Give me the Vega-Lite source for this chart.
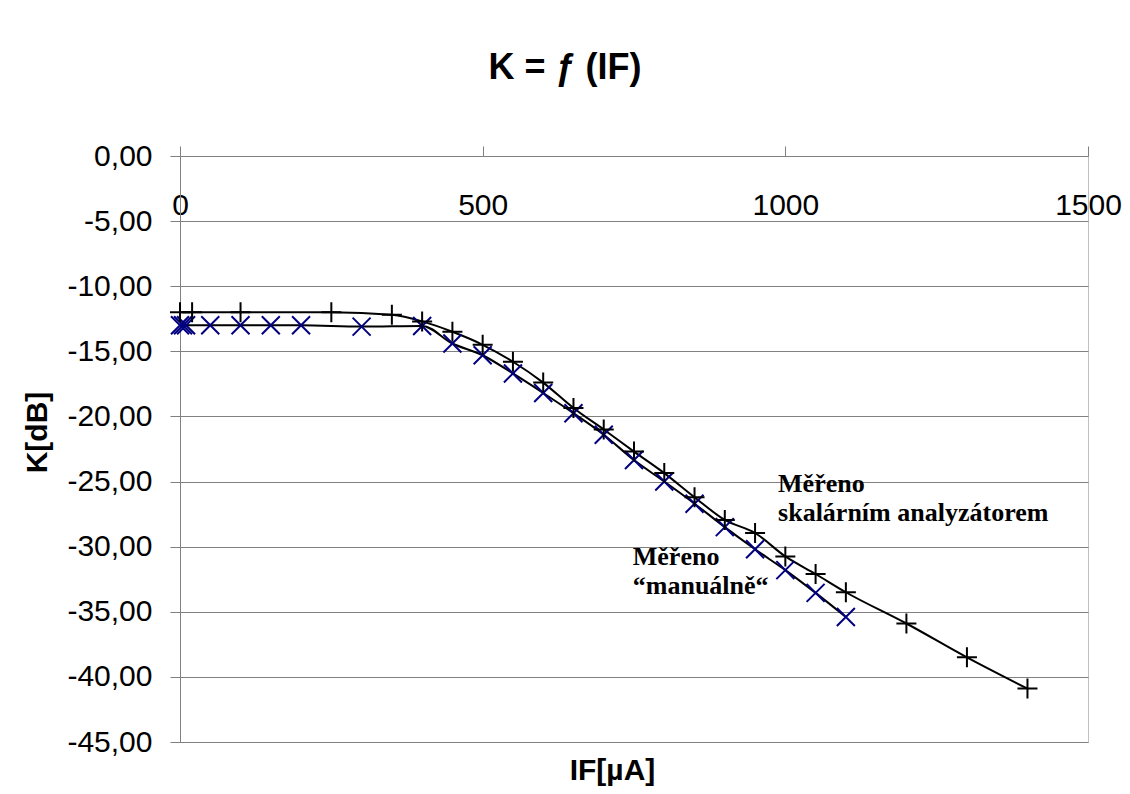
{
  "$schema": "https://vega.github.io/schema/vega-lite/v6.json",
  "width": 908,
  "height": 586,
  "autosize": {"type": "none"},
  "padding": {"left": 180, "top": 156, "right": 42, "bottom": 52},
  "background": "white",
  "title": {
    "text": "K = ƒ (IF)",
    "font": "Liberation Sans",
    "fontSize": 36,
    "fontWeight": "bold",
    "color": "black",
    "anchor": "middle",
    "dx": -69,
    "offset": 54
  },
  "datasets": {
    "meas": [
      {"I": 0, "K": -12.0, "series": "skalar"},
      {"I": 20, "K": -12.0, "series": "skalar"},
      {"I": 100, "K": -12.0, "series": "skalar"},
      {"I": 250, "K": -12.0, "series": "skalar"},
      {"I": 350, "K": -12.2, "series": "skalar"},
      {"I": 400, "K": -12.7, "series": "skalar"},
      {"I": 450, "K": -13.5, "series": "skalar"},
      {"I": 500, "K": -14.5, "series": "skalar"},
      {"I": 550, "K": -15.8, "series": "skalar"},
      {"I": 600, "K": -17.4, "series": "skalar"},
      {"I": 650, "K": -19.35, "series": "skalar"},
      {"I": 700, "K": -21.0, "series": "skalar"},
      {"I": 750, "K": -22.7, "series": "skalar"},
      {"I": 800, "K": -24.35, "series": "skalar"},
      {"I": 850, "K": -26.2, "series": "skalar"},
      {"I": 900, "K": -27.95, "series": "skalar"},
      {"I": 950, "K": -28.95, "series": "skalar"},
      {"I": 1000, "K": -30.75, "series": "skalar"},
      {"I": 1050, "K": -32.1, "series": "skalar"},
      {"I": 1100, "K": -33.5, "series": "skalar"},
      {"I": 1200, "K": -35.9, "series": "skalar"},
      {"I": 1300, "K": -38.5, "series": "skalar"},
      {"I": 1400, "K": -40.9, "series": "skalar"},
      {"I": 0, "K": -13.0, "series": "manual"},
      {"I": 5, "K": -13.0, "series": "manual"},
      {"I": 10, "K": -13.0, "series": "manual"},
      {"I": 50, "K": -13.0, "series": "manual"},
      {"I": 100, "K": -13.0, "series": "manual"},
      {"I": 150, "K": -13.0, "series": "manual"},
      {"I": 200, "K": -13.0, "series": "manual"},
      {"I": 300, "K": -13.1, "series": "manual"},
      {"I": 400, "K": -13.05, "series": "manual"},
      {"I": 450, "K": -14.4, "series": "manual"},
      {"I": 500, "K": -15.3, "series": "manual"},
      {"I": 550, "K": -16.7, "series": "manual"},
      {"I": 600, "K": -18.2, "series": "manual"},
      {"I": 650, "K": -19.75, "series": "manual"},
      {"I": 700, "K": -21.4, "series": "manual"},
      {"I": 750, "K": -23.35, "series": "manual"},
      {"I": 800, "K": -25.0, "series": "manual"},
      {"I": 850, "K": -26.7, "series": "manual"},
      {"I": 900, "K": -28.5, "series": "manual"},
      {"I": 950, "K": -30.2, "series": "manual"},
      {"I": 1000, "K": -31.8, "series": "manual"},
      {"I": 1050, "K": -33.55, "series": "manual"},
      {"I": 1100, "K": -35.4, "series": "manual"}
    ],
    "notes": [
      {"I": 988, "K": -25.8, "text": "Měřeno\nskalárním analyzátorem"},
      {"I": 748, "K": -31.4, "text": "Měřeno\n“manuálně“"}
    ]
  },
  "encoding": {
    "x": {
      "field": "I",
      "type": "quantitative",
      "scale": {"domain": [0, 1500], "nice": false, "zero": false},
      "axis": {
        "orient": "top",
        "values": [0, 500, 1000, 1500],
        "format": "d",
        "grid": false,
        "domainColor": "#808080",
        "tickColor": "#808080",
        "tickSize": 10,
        "labelPadding": -44,
        "labelBaseline": "top",
        "labelAlign": "center",
        "labelFont": "Liberation Sans",
        "labelFontSize": 30,
        "labelColor": "black",
        "labelOverlap": false,
        "labelFlush": false,
        "title": "IF[µA]",
        "titleFont": "Liberation Sans",
        "titleFontSize": 30,
        "titleFontWeight": "bold",
        "titleColor": "black",
        "titleX": 432,
        "titleY": 614,
        "titleAlign": "center",
        "titleBaseline": "middle"
      }
    },
    "y": {
      "field": "K",
      "type": "quantitative",
      "scale": {"domain": [-45, 0], "nice": false, "zero": false},
      "axis": {
        "values": [0, -5, -10, -15, -20, -25, -30, -35, -40, -45],
        "grid": true,
        "gridColor": "#808080",
        "gridWidth": 1,
        "domainColor": "#808080",
        "tickColor": "#808080",
        "tickSize": 10,
        "labelPadding": 18,
        "labelFont": "Liberation Sans",
        "labelFontSize": 30,
        "labelColor": "black",
        "labelOverlap": false,
        "labelFlush": false,
        "labelExpr": "(datum.value < 0 ? '-' : '') + replace(format(abs(datum.value), '.2f'), '.', ',')",
        "title": "K[dB]",
        "titleFont": "Liberation Sans",
        "titleFontSize": 30,
        "titleFontWeight": "bold",
        "titleColor": "black",
        "titleAngle": -90,
        "titleX": -143,
        "titleY": 276,
        "titleAlign": "center",
        "titleBaseline": "middle"
      }
    }
  },
  "layer": [
    {
      "data": {"name": "meas"},
      "mark": {"type": "line", "interpolate": "monotone", "color": "black", "strokeWidth": 2},
      "encoding": {"detail": {"field": "series"}}
    },
    {
      "data": {"name": "meas"},
      "transform": [{"filter": "datum.series === 'manual'"}],
      "mark": {"type": "point", "shape": "M-1,-1L1,1M-1,1L1,-1", "filled": false, "stroke": "#000080", "strokeWidth": 2, "size": 324, "opacity": 1}
    },
    {
      "data": {"name": "meas"},
      "transform": [{"filter": "datum.series === 'skalar'"}],
      "mark": {"type": "point", "shape": "M-1,0L1,0M0,-1L0,1", "filled": false, "stroke": "black", "strokeWidth": 2, "size": 400, "opacity": 1}
    },
    {
      "data": {"name": "notes"},
      "mark": {"type": "text", "align": "left", "baseline": "alphabetic", "font": "Liberation Serif", "fontSize": 26, "fontWeight": "bold", "color": "black", "lineHeight": 29, "lineBreak": "\n"},
      "encoding": {"text": {"field": "text"}}
    }
  ],
  "config": {
    "view": {"stroke": "#c0c0c0", "strokeWidth": 1}
  }
}
